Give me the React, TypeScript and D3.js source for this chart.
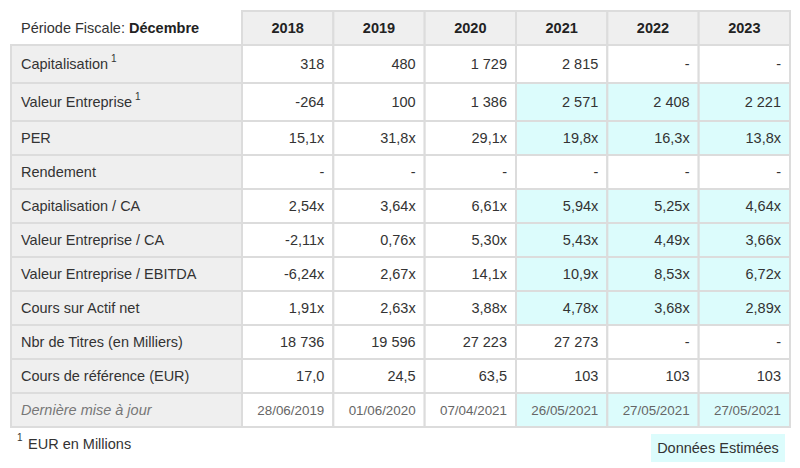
import React from "react";
import * as d3 from "d3";

const years = ["2018", "2019", "2020", "2021", "2022", "2023"];
const rowLabels = [
  "Capitalisation",
  "Valeur Entreprise",
  "PER",
  "Rendement",
  "Capitalisation / CA",
  "Valeur Entreprise / CA",
  "Valeur Entreprise / EBITDA",
  "Cours sur Actif net",
  "Nbr de Titres (en Milliers)",
  "Cours de référence (EUR)",
  "Dernière mise à jour",
];
const footnoteRows = [true, true, false, false, false, false, false, false, false, false, false];
const values: string[][] = [
  ["318", "480", "1 729", "2 815", "-", "-"],
  ["-264", "100", "1 386", "2 571", "2 408", "2 221"],
  ["15,1x", "31,8x", "29,1x", "19,8x", "16,3x", "13,8x"],
  ["-", "-", "-", "-", "-", "-"],
  ["2,54x", "3,64x", "6,61x", "5,94x", "5,25x", "4,64x"],
  ["-2,11x", "0,76x", "5,30x", "5,43x", "4,49x", "3,66x"],
  ["-6,24x", "2,67x", "14,1x", "10,9x", "8,53x", "6,72x"],
  ["1,91x", "2,63x", "3,88x", "4,78x", "3,68x", "2,89x"],
  ["18 736", "19 596", "27 223", "27 273", "-", "-"],
  ["17,0", "24,5", "63,5", "103", "103", "103"],
  ["28/06/2019", "01/06/2020", "07/04/2021", "26/05/2021", "27/05/2021", "27/05/2021"],
];
const estimated: boolean[][] = [
  [false, false, false, false, false, false],
  [false, false, false, true, true, true],
  [false, false, false, true, true, true],
  [false, false, false, false, false, false],
  [false, false, false, true, true, true],
  [false, false, false, true, true, true],
  [false, false, false, true, true, true],
  [false, false, false, true, true, true],
  [false, false, false, false, false, false],
  [false, false, false, false, false, false],
  [false, false, false, true, true, true],
];
const headerTitle = "Période Fiscale: ";
const headerMonth = "Décembre";
const footnoteText = "EUR en Millions";
const legendText = "Données Estimées";

const FONT = "'Liberation Sans', Arial, sans-serif";
const BORDER = "#dcdcdc";
const GRAY = "#efefef";
const CYAN = "#dcfcfc";
const TEXT = "#333";
const FS = 14.5;

export default function App() {
  const W = 800, H = 468;
  const left = 11, labelRight = 242, right = 790;
  const headerTop = 11, headerBottom = 45;

  const x = d3.scaleBand<string>().domain(years).range([labelRight, right]);

  const heights = rowLabels.map((_, i) => (footnoteRows[i] ? 38 : 34));
  const tops = [headerBottom, ...d3.cumsum(heights)].map((v, i) => (i === 0 ? v : headerBottom + v));
  const bottom = tops[rowLabels.length];

  return (
    <svg width={W} height={H} style={{ position: "absolute", left: 0, top: 0 }} fontFamily={FONT}>
      <rect x={0} y={0} width={W} height={H} fill="#fff" />
      {/* header */}
      <text x={21} y={headerTop + 22} fontSize={FS} fill={TEXT}>
        {headerTitle}
        <tspan fontWeight="bold" fill="#222">{headerMonth}</tspan>
      </text>
      {years.map((yr) => (
        <g key={yr}>
          <rect x={x(yr)} y={headerTop} width={x.bandwidth()} height={headerBottom - headerTop} fill={GRAY} stroke={BORDER} strokeWidth={2} />
          <text x={(x(yr) as number) + x.bandwidth() / 2} y={headerTop + 22} fontSize={14.5} fontWeight="bold" textAnchor="middle" fill="#222">{yr}</text>
        </g>
      ))}
      {/* rows */}
      {rowLabels.map((lab, i) => {
        const top = tops[i];
        const h = heights[i];
        const cy = top + h / 2;
        const last = i === rowLabels.length - 1;
        return (
          <g key={lab}>
            <rect x={left} y={top} width={labelRight - left} height={h} fill={GRAY} stroke={BORDER} strokeWidth={2} />
            <text x={21} y={cy + 5} fontSize={FS} fill={last ? "#777" : TEXT} fontStyle={last ? "italic" : "normal"}>
              {lab}
              {footnoteRows[i] && (
                <tspan dx={3} dy={-7} fontSize={10}>1</tspan>
              )}
            </text>
            {years.map((yr, j) => (
              <g key={yr}>
                <rect x={x(yr)} y={top} width={x.bandwidth()} height={h} fill={estimated[i][j] ? CYAN : "#fff"} stroke={BORDER} strokeWidth={2} />
                <text x={(x(yr) as number) + x.bandwidth() - 9} y={cy + 5} fontSize={last ? 13.4 : FS} textAnchor="end" fill={last ? "#666" : TEXT}>{values[i][j]}</text>
              </g>
            ))}
          </g>
        );
      })}
      {/* footnote */}
      <text x={17} y={bottom + 14} fontSize={10} fill={TEXT}>1</text>
      <text x={28} y={bottom + 22} fontSize={FS} fill={TEXT}>{footnoteText}</text>
      {/* legend */}
      <rect x={651} y={bottom + 7} width={134} height={28} fill={CYAN} />
      <text x={718} y={bottom + 26} fontSize={FS} textAnchor="middle" fill={TEXT}>{legendText}</text>
    </svg>
  );
}
